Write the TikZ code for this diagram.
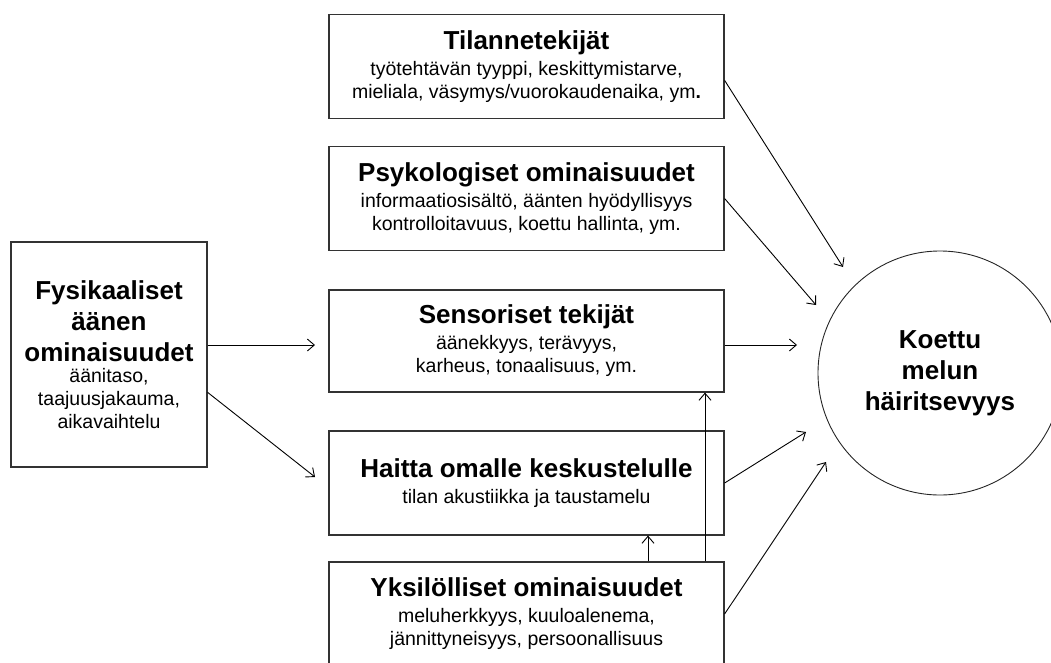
\documentclass[tikz,border=0pt]{standalone}
\usepackage{fontspec}
\setmainfont{Liberation Sans}
\usetikzlibrary{arrows.meta}
\newcommand{\boxtitle}{\fontsize{26}{31}\selectfont\bfseries}
\newcommand{\boxsub}{\fontsize{19.5}{23}\selectfont}
\setlength{\lineskiplimit}{-100pt}

\begin{document}
\begin{tikzpicture}[x=1pt, y=-1pt, >={Straight Barb[length=7pt,width=12pt]},
  factor/.style={draw=black!80, line width=1.2pt, minimum width=395pt, minimum height=104pt,
    inner sep=0pt, align=center, font=\boxsub},
  link/.style={->, line width=0.9pt}]

  \useasboundingbox (0,0) rectangle (1051,662);
  \clip (0,0) rectangle (1051,662);

  % ---------- factor boxes ----------
  \node[factor] (tilanne) at (526.5,66.5) {{\boxtitle Tilannetekijät}\\[3pt]
    työtehtävän tyyppi, keskittymistarve,\\ mieliala, väsymys/vuorokaudenaika, ym{\bfseries .}};
  \node[factor] (psyk) at (526.5,198.5) {{\boxtitle Psykologiset ominaisuudet}\\[3pt]
    informaatiosisältö, äänten hyödyllisyys\\ kontrolloitavuus, koettu hallinta, ym.};
  \node[factor, minimum height=102pt] (sensor) at (526.5,341) {{\boxtitle Sensoriset tekijät}\\[3pt]
    äänekkyys, terävyys,\\ karheus, tonaalisuus, ym.};
  \node[factor] (haitta) at (526.5,483) {{\boxtitle Haitta omalle keskustelulle}\\[3pt]
    tilan akustiikka ja taustamelu};
  \node[factor] (yksi) at (526.5,614) {{\boxtitle Yksilölliset ominaisuudet}\\[3pt]
    meluherkkyys, kuuloalenema,\\ jännittyneisyys, persoonallisuus};

  % ---------- source and outcome ----------
  \node[factor, minimum width=196pt, minimum height=225pt] (fys) at (109,354.5)
    {{\boxtitle Fysikaaliset}\\[8pt]{\boxtitle äänen}\\[8pt]{\boxtitle ominaisuudet}\\[-1.5pt]
     äänitaso,\\ taajuusjakauma,\\ aikavaihtelu};
  \node[draw=black!85, line width=0.9pt, circle, minimum size=244pt, inner sep=0pt,
    align=center, font=\boxtitle] (melu) at (940,373) {Koettu\\ melun\\ häiritsevyys};

  % ---------- free arrow ends ----------
  \coordinate (t1) at (843,267);
  \coordinate (t2) at (816,305);
  \coordinate (t3) at (797,345);
  \coordinate (t4) at (806,432);
  \coordinate (t5) at (826,462);
  \coordinate (f1) at (315,345);
  \coordinate (f2) at (315,477);
  \coordinate (v1) at (705,0);
  \coordinate (v2) at (648,0);

  % ---------- arrows ----------
  \draw[link] (tilanne.-4) -- (t1);
  \draw[link] (psyk.east) -- (t2);
  \draw[link] (sensor.east |- t3) -- (t3);
  \draw[link] (haitta.east) -- (t4);
  \draw[link] (yksi.east) -- (t5);
  \draw[link] (fys.east |- f1) -- (f1);
  \draw[link] (fys.-21) -- (f2);
  \draw[link] (yksi.north -| v1) -- (sensor.south -| v1);
  \draw[link] (yksi.north -| v2) -- (haitta.south -| v2);

\end{tikzpicture}
\end{document}
